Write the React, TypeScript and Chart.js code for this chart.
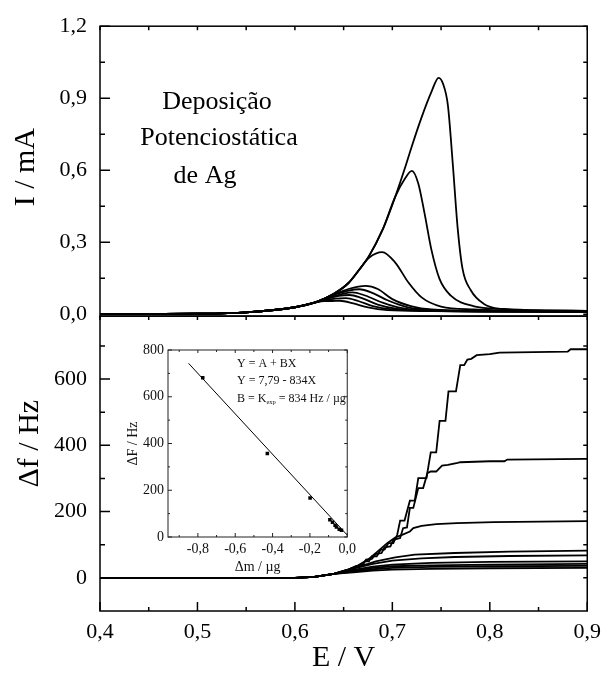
import React, { useEffect, useRef } from 'react';
import { Chart, registerables } from 'chart.js';

Chart.register(...registerables);

const FONT = '"Liberation Serif", "Times New Roman", serif';

// ---------- Axis ticks ----------
const E_TICKS = [0.4, 0.5, 0.6, 0.7, 0.8, 0.9];
const E_MINOR = [0.45, 0.55, 0.65, 0.75, 0.85];
const I_TICKS = [0.0, 0.3, 0.6, 0.9, 1.2];
const I_MINOR = [0.15, 0.45, 0.75, 1.05];
const F_TICKS = [0, 200, 400, 600];
const F_MINOR = [100, 300, 500, 700];
const INSET_X_TICKS = [-0.8, -0.6, -0.4, -0.2, 0.0];
const INSET_X_MINOR = [-0.9, -0.7, -0.5, -0.3, -0.1];
const INSET_Y_TICKS = [0, 200, 400, 600, 800];
const INSET_Y_MINOR = [100, 300, 500, 700];

// ---------- Top panel: I / mA vs E / V ----------
const BASE_E = [0.4, 0.5, 0.55, 0.6, 0.62];
const BASE_I = [0.0, 0.002, 0.008, 0.029, 0.048];

const I1_E = [0.64, 0.655, 0.665, 0.676, 0.69, 0.703, 0.713, 0.72, 0.73, 0.74, 0.7475, 0.752, 0.757, 0.762, 0.767, 0.772, 0.7805, 0.794, 0.811, 0.85, 0.9];
const I1_V = [0.085, 0.13, 0.18, 0.242, 0.352, 0.49, 0.61, 0.7, 0.82, 0.925, 0.985, 0.96, 0.87, 0.627, 0.36, 0.19, 0.1, 0.043, 0.022, 0.016, 0.014];

const I2_E = [0.64, 0.655, 0.665, 0.676, 0.69, 0.703, 0.713, 0.72, 0.7266, 0.733, 0.74, 0.7485, 0.76, 0.784, 0.814, 0.85, 0.9];
const I2_V = [0.085, 0.13, 0.18, 0.242, 0.352, 0.49, 0.565, 0.597, 0.545, 0.421, 0.27, 0.146, 0.077, 0.033, 0.022, 0.016, 0.014];

const I3_E = [0.64, 0.655, 0.665, 0.676, 0.6896, 0.703, 0.7165, 0.73, 0.75, 0.784, 0.85, 0.9];
const I3_V = [0.085, 0.13, 0.18, 0.235, 0.259, 0.215, 0.132, 0.07, 0.032, 0.02, 0.015, 0.013];

const I4_E = [0.64, 0.655, 0.6727, 0.685, 0.7, 0.72, 0.74, 0.8, 0.9];
const I4_V = [0.082, 0.105, 0.118, 0.105, 0.063, 0.033, 0.02, 0.014, 0.012];

const I5_E = [0.64, 0.655, 0.666, 0.68, 0.695, 0.715, 0.74, 0.8, 0.9];
const I5_V = [0.08, 0.098, 0.104, 0.088, 0.058, 0.03, 0.018, 0.013, 0.012];

const I6_E = [0.635, 0.65, 0.659, 0.672, 0.69, 0.71, 0.74, 0.8, 0.9];
const I6_V = [0.068, 0.086, 0.091, 0.078, 0.048, 0.025, 0.016, 0.012, 0.011];

const I7_E = [0.63, 0.645, 0.656, 0.668, 0.685, 0.705, 0.74, 0.8, 0.9];
const I7_V = [0.06, 0.076, 0.08, 0.068, 0.04, 0.022, 0.015, 0.012, 0.011];

const I8_E = [0.63, 0.642, 0.6525, 0.665, 0.68, 0.7, 0.74, 0.8, 0.9];
const I8_V = [0.058, 0.065, 0.067, 0.055, 0.034, 0.02, 0.014, 0.011, 0.01];

const I9_E = [0.63, 0.638, 0.646, 0.66, 0.675, 0.695, 0.74, 0.8, 0.9];
const I9_V = [0.055, 0.055, 0.056, 0.045, 0.028, 0.017, 0.013, 0.011, 0.01];

// ---------- Bottom panel: Δf / Hz vs E / V ----------
const F_BASE_E = [0.4, 0.6, 0.62, 0.64];
const F_BASE_V = [0, 0, 3, 12];

const F1_E = [0.655, 0.6626, 0.668, 0.672, 0.676, 0.679, 0.684, 0.688, 0.692, 0.696, 0.701, 0.705, 0.708, 0.7125, 0.718, 0.723, 0.7266, 0.735, 0.7394, 0.745, 0.7485, 0.7545, 0.7576, 0.7653, 0.7697, 0.7737, 0.777, 0.781, 0.7865, 0.8, 0.81, 0.88, 0.883, 0.9];
const F1_V = [25, 35, 35, 50, 50, 65, 65, 85, 85, 105, 105, 130, 173, 173, 233, 233, 301, 301, 379, 379, 474, 474, 563, 563, 642, 642, 659, 661, 672, 675, 680, 683, 690, 690];

const F2_E = [0.655, 0.665, 0.67, 0.673, 0.679, 0.683, 0.689, 0.692, 0.698, 0.701, 0.708, 0.711, 0.715, 0.718, 0.7215, 0.7266, 0.7316, 0.736, 0.7394, 0.745, 0.751, 0.757, 0.767, 0.7697, 0.8, 0.815, 0.818, 0.9];
const F2_V = [25, 36, 42, 55, 57, 72, 75, 92, 95, 115, 120, 150, 152, 211, 211, 271, 271, 316, 321, 321, 339, 341, 347, 349, 352, 352, 357, 359];

const F3_E = [0.655, 0.665, 0.675, 0.685, 0.695, 0.703, 0.71, 0.718, 0.7215, 0.73, 0.745, 0.766, 0.804, 0.9];
const F3_V = [25, 38, 55, 80, 105, 122, 130, 140, 150, 157, 162, 165, 168, 171];

const F4_E = [0.66, 0.675, 0.683, 0.703, 0.723, 0.764, 0.82, 0.9];
const F4_V = [30, 42, 50, 62, 70, 75, 79, 82];

const F5_E = [0.66, 0.68, 0.7, 0.73, 0.764, 0.82, 0.9];
const F5_V = [28, 42, 52, 59, 63, 66, 68];

const F6_E = [0.66, 0.68, 0.7, 0.74, 0.8, 0.9];
const F6_V = [24, 34, 40, 45, 48, 50];

const F7_E = [0.66, 0.68, 0.7, 0.74, 0.8, 0.9];
const F7_V = [21, 30, 35, 38, 40, 42];

const F8_E = [0.66, 0.68, 0.7, 0.74, 0.8, 0.9];
const F8_V = [19, 26, 30, 33, 35, 36];

const F9_E = [0.66, 0.68, 0.7, 0.74, 0.8, 0.9];
const F9_V = [17, 22, 25, 27, 29, 30];

// ---------- Inset: ΔF vs Δm ----------
const INSET_DM = [-0.774, -0.428, -0.199, -0.093, -0.079, -0.065, -0.058, -0.043, -0.031];
const INSET_DF = [681, 357, 167, 74, 63, 50, 43, 33, 29];
const FIT_X = [-0.85, 0.0];
const FIT_Y = [743, 8];

const ANNOTATION = ['Deposição', 'Potenciostática', 'de Ag'];
const EQ_LINE1 = 'Y = A + BX';
const EQ_LINE2 = 'Y = 7,79 - 834X';
const EQ_LINE3A = 'B = K';
const EQ_LINE3SUB = 'exp';
const EQ_LINE3B = ' = 834 Hz / µg';

const fmt1 = (v: number) => Number(v).toFixed(1).replace('.', ',');
const pts = (xs: number[], ys: number[]) => xs.map((x, i) => ({ x, y: ys[i] }));

const topSeries: [number[], number[]][] = [
  [I1_E, I1_V], [I2_E, I2_V], [I3_E, I3_V], [I4_E, I4_V], [I5_E, I5_V],
  [I6_E, I6_V], [I7_E, I7_V], [I8_E, I8_V], [I9_E, I9_V],
];
const bottomSeries: [number[], number[]][] = [
  [F1_E, F1_V], [F2_E, F2_V], [F3_E, F3_V], [F4_E, F4_V], [F5_E, F5_V],
  [F6_E, F6_V], [F7_E, F7_V], [F8_E, F8_V], [F9_E, F9_V],
];

const mainFramePlugin = {
  id: 'mainFrame',
  afterDraw(chart: any) {
    const { ctx } = chart;
    const x = chart.scales.x;
    const yI = chart.scales.yI;
    const yF = chart.scales.yF;
    const L = x.left;
    const R = x.right;
    ctx.save();
    ctx.strokeStyle = '#000';
    ctx.lineWidth = 1.5;
    ctx.strokeRect(L, yI.top, R - L, yI.bottom - yI.top);
    ctx.strokeRect(L, yF.top, R - L, yF.bottom - yF.top);
    ctx.beginPath();
    const hTicks = (scale: any, vals: number[], len: number, right: boolean) => {
      for (const v of vals) {
        const p = scale.getPixelForValue(v);
        if (right) { ctx.moveTo(R, p); ctx.lineTo(R - len, p); }
        else { ctx.moveTo(L, p); ctx.lineTo(L + len, p); }
      }
    };
    const vTicks = (vals: number[], edge: number, len: number) => {
      for (const v of vals) {
        const p = x.getPixelForValue(v);
        ctx.moveTo(p, edge); ctx.lineTo(p, edge + len);
      }
    };
    hTicks(yI, I_TICKS, 10, false);
    hTicks(yI, I_MINOR, 5, false);
    hTicks(yI, [...I_TICKS, ...I_MINOR], 4, true);
    hTicks(yF, F_TICKS, 10, false);
    hTicks(yF, F_MINOR, 5, false);
    hTicks(yF, [...F_TICKS, ...F_MINOR], 4, true);
    vTicks(E_TICKS, yF.bottom, -9);
    vTicks(E_MINOR, yF.bottom, -4);
    vTicks([...E_TICKS, ...E_MINOR], yI.top, 4);
    vTicks([...E_TICKS, ...E_MINOR], yI.bottom, 4);
    ctx.stroke();

    // y-axis titles
    ctx.fillStyle = '#000';
    ctx.font = `30px ${FONT}`;
    ctx.textAlign = 'center';
    ctx.textBaseline = 'middle';
    ctx.save();
    ctx.translate(26, (yI.top + yI.bottom) / 2 - 4);
    ctx.rotate(-Math.PI / 2);
    ctx.fillText('I / mA', 0, 0);
    ctx.restore();
    ctx.save();
    ctx.translate(30, yF.getPixelForValue(405));
    ctx.rotate(-Math.PI / 2);
    ctx.fillText('Δf / Hz', 0, 0);
    ctx.restore();

    // annotation
    ctx.font = `26px ${FONT}`;
    ctx.textBaseline = 'alphabetic';
    ctx.fillText(ANNOTATION[0], L + 117, yI.top + 83);
    ctx.fillText(ANNOTATION[1], L + 119, yI.top + 119);
    ctx.fillText(ANNOTATION[2], L + 105, yI.top + 157);
    ctx.restore();
  },
};

const insetFramePlugin = {
  id: 'insetFrame',
  afterDraw(chart: any) {
    const { ctx, chartArea } = chart;
    const x = chart.scales.x;
    const y = chart.scales.y;
    const { left: L, right: R, top: T, bottom: B } = chartArea;
    ctx.save();
    ctx.strokeStyle = '#222';
    ctx.lineWidth = 1;
    ctx.strokeRect(L, T, R - L, B - T);
    ctx.beginPath();
    for (const v of INSET_X_TICKS) { const p = x.getPixelForValue(v); ctx.moveTo(p, B); ctx.lineTo(p, B - 4); ctx.moveTo(p, T); ctx.lineTo(p, T + 3); }
    for (const v of INSET_X_MINOR) { const p = x.getPixelForValue(v); ctx.moveTo(p, B); ctx.lineTo(p, B - 2); ctx.moveTo(p, T); ctx.lineTo(p, T + 2); }
    for (const v of INSET_Y_TICKS) { const p = y.getPixelForValue(v); ctx.moveTo(L, p); ctx.lineTo(L + 4, p); ctx.moveTo(R, p); ctx.lineTo(R - 3, p); }
    for (const v of INSET_Y_MINOR) { const p = y.getPixelForValue(v); ctx.moveTo(L, p); ctx.lineTo(L + 2, p); ctx.moveTo(R, p); ctx.lineTo(R - 2, p); }
    ctx.stroke();

    ctx.fillStyle = '#111';
    ctx.textAlign = 'left';
    ctx.textBaseline = 'alphabetic';
    ctx.font = `12px ${FONT}`;
    const tx = L + 69;
    ctx.fillText(EQ_LINE1, tx, T + 17);
    ctx.fillText(EQ_LINE2, tx, T + 34);
    ctx.fillText(EQ_LINE3A, tx, T + 52);
    let w = ctx.measureText(EQ_LINE3A).width;
    ctx.font = `6.5px ${FONT}`;
    ctx.fillText(EQ_LINE3SUB, tx + w, T + 54);
    w += ctx.measureText(EQ_LINE3SUB).width;
    ctx.font = `12px ${FONT}`;
    ctx.fillText(EQ_LINE3B, tx + w, T + 52);
    ctx.restore();
  },
};

function mainConfig(): any {
  const datasets: any[] = [];
  topSeries.forEach(([es, vs]) => {
    datasets.push({
      data: pts([...BASE_E, ...es], [...BASE_I, ...vs]),
      xAxisID: 'x', yAxisID: 'yI',
      borderColor: '#000', borderWidth: 1.8, pointRadius: 0,
      cubicInterpolationMode: 'monotone', fill: false,
    });
  });
  bottomSeries.forEach(([es, vs]) => {
    datasets.push({
      data: pts([...F_BASE_E, ...es], [...F_BASE_V, ...vs]),
      xAxisID: 'x', yAxisID: 'yF',
      borderColor: '#000', borderWidth: 1.8, pointRadius: 0,
      tension: 0, fill: false,
    });
  });
  const tickFont = { family: FONT, size: 22 };
  return {
    type: 'line',
    data: { datasets },
    options: {
      animation: false,
      responsive: false,
      events: [],
      layout: { padding: { top: 21, right: 14, bottom: 0, left: 0 } },
      plugins: { legend: { display: false }, tooltip: { enabled: false } },
      scales: {
        x: {
          type: 'linear', position: 'bottom', min: 0.4, max: 0.9,
          afterBuildTicks: (s: any) => { s.ticks = E_TICKS.map((v) => ({ value: v })); },
          afterFit: (s: any) => { s.height = 62; },
          grid: { display: false, drawTicks: false },
          border: { display: false },
          ticks: { font: tickFont, color: '#000', padding: 8, maxRotation: 0, autoSkip: false, callback: (v: number) => fmt1(v) },
          title: { display: true, text: 'E / V', color: '#000', font: { family: FONT, size: 30, lineHeight: 1 }, padding: { top: 0, bottom: 0 } },
        },
        yF: {
          type: 'linear', position: 'left', stack: 'panels', stackWeight: 297.5,
          min: -100, max: 790,
          afterBuildTicks: (s: any) => { s.ticks = F_TICKS.map((v) => ({ value: v })); },
          afterFit: (s: any) => { s.width = 100; },
          grid: { display: false, drawTicks: false },
          border: { display: false },
          ticks: { font: tickFont, color: '#000', padding: 13, callback: (v: number) => String(v) },
        },
        yI: {
          type: 'linear', position: 'left', stack: 'panels', stackWeight: 292.5,
          min: -0.008, max: 1.2,
          afterBuildTicks: (s: any) => { s.ticks = I_TICKS.map((v) => ({ value: v })); },
          afterFit: (s: any) => { s.width = 100; },
          grid: { display: false, drawTicks: false },
          border: { display: false },
          ticks: { font: tickFont, color: '#000', padding: 13, callback: (v: number) => fmt1(v) },
        },
      },
    },
    plugins: [mainFramePlugin],
  };
}

function insetConfig(): any {
  const tickFont = { family: FONT, size: 14 };
  return {
    type: 'line',
    data: {
      datasets: [
        {
          data: pts(FIT_X, FIT_Y),
          borderColor: '#000', borderWidth: 1, pointRadius: 0, tension: 0, fill: false,
        },
        {
          data: pts(INSET_DM, INSET_DF),
          showLine: false, pointStyle: 'rect', pointRadius: 2.5,
          backgroundColor: '#000', borderColor: '#000', borderWidth: 0,
        },
      ],
    },
    options: {
      animation: false,
      responsive: false,
      events: [],
      layout: { padding: { top: 15, right: 11, bottom: 0, left: 0 } },
      plugins: { legend: { display: false }, tooltip: { enabled: false } },
      scales: {
        x: {
          type: 'linear', min: -0.96, max: 0,
          afterBuildTicks: (s: any) => { s.ticks = INSET_X_TICKS.map((v) => ({ value: v })); },
          afterFit: (s: any) => { s.height = 37; },
          grid: { display: false, drawTicks: false },
          border: { display: false },
          ticks: { font: tickFont, color: '#111', padding: 4, maxRotation: 0, autoSkip: false, callback: (v: number) => fmt1(v) },
          title: { display: true, text: 'Δm / µg', color: '#111', font: { family: FONT, size: 14, lineHeight: 1 }, padding: { top: 0, bottom: 0 } },
        },
        y: {
          type: 'linear', min: 0, max: 800,
          afterBuildTicks: (s: any) => { s.ticks = INSET_Y_TICKS.map((v) => ({ value: v })); },
          afterFit: (s: any) => { s.width = 42; },
          grid: { display: false, drawTicks: false },
          border: { display: false },
          ticks: { font: tickFont, color: '#111', padding: 4, callback: (v: number) => String(v) },
          title: { display: true, text: 'ΔF / Hz', color: '#111', font: { family: FONT, size: 14, lineHeight: 1 }, padding: { top: 0, bottom: 0 } },
        },
      },
    },
    plugins: [insetFramePlugin],
  };
}

export default function App() {
  const mainRef = useRef<HTMLCanvasElement>(null);
  const insetRef = useRef<HTMLCanvasElement>(null);
  useEffect(() => {
    const main = new Chart(mainRef.current as HTMLCanvasElement, mainConfig());
    const inset = new Chart(insetRef.current as HTMLCanvasElement, insetConfig());
    return () => {
      main.destroy();
      inset.destroy();
    };
  }, []);
  return (
    <div style={{ position: 'fixed', left: 0, top: 0, width: 609, height: 673, background: '#fff' }}>
      <canvas ref={mainRef} width={609} height={673} style={{ position: 'absolute', left: 0, top: 0, width: 609, height: 673 }} />
      <canvas ref={insetRef} width={234} height={239} style={{ position: 'absolute', left: 126, top: 335, width: 234, height: 239 }} />
    </div>
  );
}
